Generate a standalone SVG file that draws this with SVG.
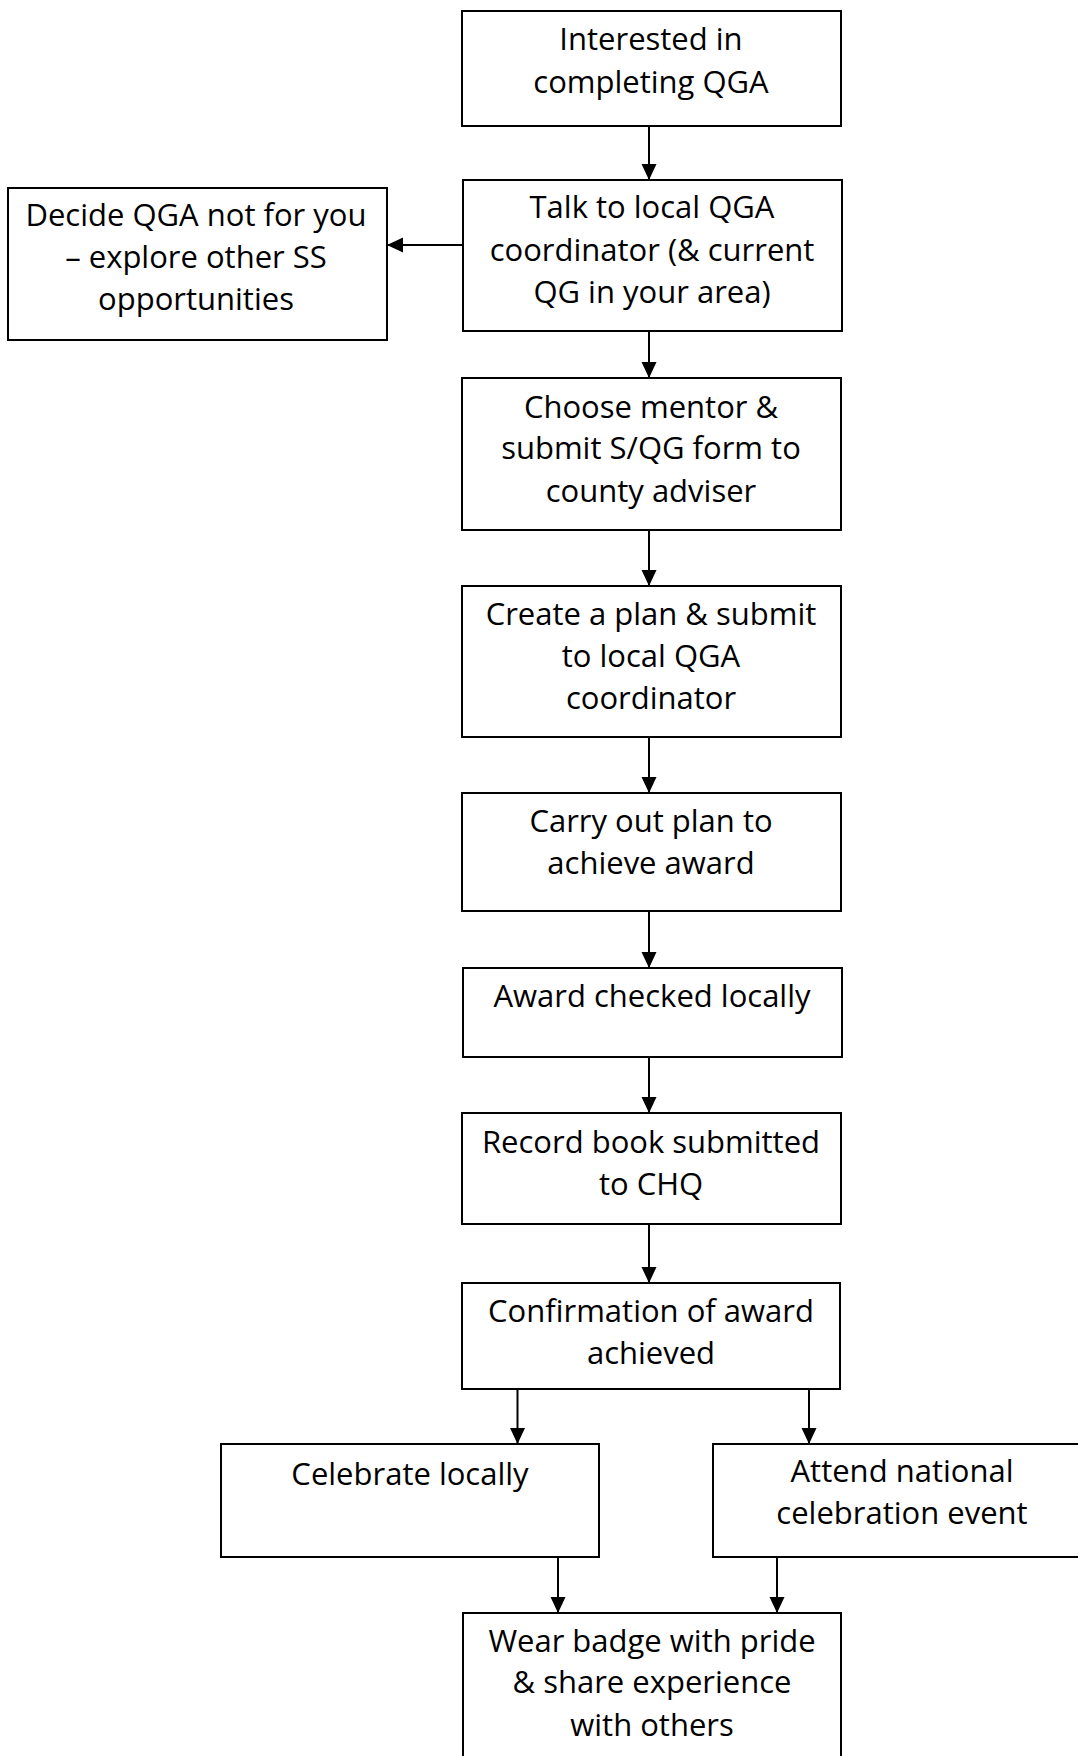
<svg xmlns="http://www.w3.org/2000/svg" width="1078" height="1756" viewBox="0 0 1078 1756">
<style>
.box{fill:#fff;stroke:#000;stroke-width:2}
.t{font-family:"Open Sans","Liberation Sans",sans-serif;font-size:31px;fill:#000;text-anchor:middle}
.c{stroke:#000;stroke-width:2;fill:none;marker-end:url(#ah)}
</style>
<defs>
<marker id="ah" markerUnits="userSpaceOnUse" markerWidth="16" markerHeight="16" viewBox="0 0 16 16" refX="16" refY="8" orient="auto">
<path d="M0,0.5 L16,8 L0,15.5 Z" fill="#000"/>
</marker>
</defs>
<rect width="1078" height="1756" fill="#fff"/>
<g id="connectors">
<line class="c" x1="649" y1="126" x2="649" y2="180"/>
<line class="c" x1="463" y1="245" x2="387" y2="245"/>
<line class="c" x1="649" y1="323" x2="649" y2="378"/>
<line class="c" x1="649" y1="530" x2="649" y2="586"/>
<line class="c" x1="649" y1="737" x2="649" y2="793"/>
<line class="c" x1="649" y1="911" x2="649" y2="968"/>
<line class="c" x1="649" y1="1057" x2="649" y2="1113"/>
<line class="c" x1="649" y1="1224" x2="649" y2="1283"/>
<line class="c" x1="517.5" y1="1389" x2="517.5" y2="1444"/>
<line class="c" x1="809" y1="1389" x2="809" y2="1444"/>
<line class="c" x1="558" y1="1557" x2="558" y2="1613"/>
<line class="c" x1="777" y1="1557" x2="777" y2="1613"/>
</g>
<g id="n1"><rect class="box" x="462" y="11" width="379" height="115"/>
<text class="t" x="651" y="50">Interested in</text><text class="t" x="651" y="92.7">completing QGA</text></g>
<g id="n2"><rect class="box" x="463" y="180" width="379" height="151"/>
<text class="t" x="652" y="218.3">Talk to local QGA</text><text class="t" x="652" y="261">coordinator (&amp; current</text><text class="t" x="652" y="303.3">QG in your area)</text></g>
<g id="n0"><rect class="box" x="8" y="188" width="379" height="152"/>
<text class="t" x="196" y="225.5">Decide QGA not for you</text><text class="t" x="196" y="268">– explore other SS</text><text class="t" x="196" y="310">opportunities</text></g>
<g id="n3"><rect class="box" x="462" y="378" width="379" height="152"/>
<text class="t" x="651" y="418.3">Choose mentor &amp;</text><text class="t" x="651" y="459.3">submit S/QG form to</text><text class="t" x="651" y="501.7">county adviser</text></g>
<g id="n4"><rect class="box" x="462" y="586" width="379" height="151"/>
<text class="t" x="651" y="625">Create a plan &amp; submit</text><text class="t" x="651" y="666.7">to local QGA</text><text class="t" x="651" y="709.3">coordinator</text></g>
<g id="n5"><rect class="box" x="462" y="793" width="379" height="118"/>
<text class="t" x="651" y="831.7">Carry out plan to</text><text class="t" x="651" y="874.3">achieve award</text></g>
<g id="n6"><rect class="box" x="463" y="968" width="379" height="89"/>
<text class="t" x="652" y="1007.3">Award checked locally</text></g>
<g id="n7"><rect class="box" x="462" y="1113" width="379" height="111"/>
<text class="t" x="651" y="1152.7">Record book submitted</text><text class="t" x="651" y="1195">to CHQ</text></g>
<g id="n8"><rect class="box" x="462" y="1283" width="378" height="106"/>
<text class="t" x="651" y="1321.7">Confirmation of award</text><text class="t" x="651" y="1364">achieved</text></g>
<g id="n9"><rect class="box" x="221" y="1444" width="378" height="113"/>
<text class="t" x="410" y="1485">Celebrate locally</text></g>
<g id="n10"><rect class="box" x="713" y="1444" width="378" height="113"/>
<text class="t" x="902" y="1481.7">Attend national</text><text class="t" x="902" y="1524">celebration event</text></g>
<g id="n11"><rect class="box" x="463" y="1613" width="378" height="160"/>
<text class="t" x="652" y="1651.7">Wear badge with pride</text><text class="t" x="652" y="1693.3">&amp; share experience</text><text class="t" x="652" y="1736">with others</text></g>
</svg>
